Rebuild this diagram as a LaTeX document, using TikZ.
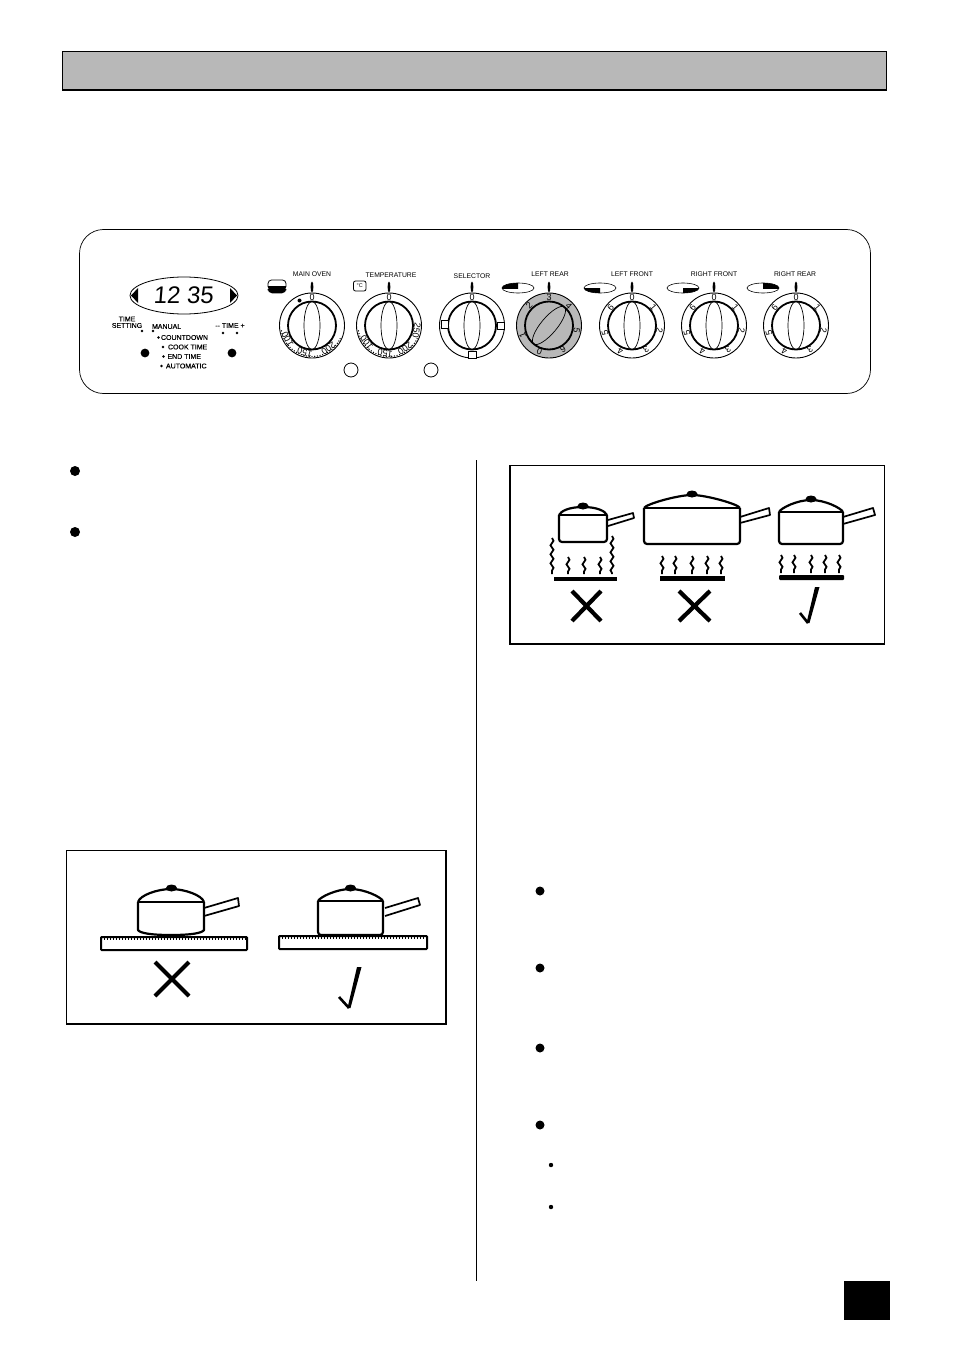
\documentclass[tikz,border=0pt]{standalone}
\usepackage{fontspec}
\setmainfont{Liberation Sans}
\newfontfamily\timerfont{Liberation Sans}[FakeBold=0.3]
\usetikzlibrary{decorations.pathmorphing}

\definecolor{bandgrey}{gray}{0.72}
\definecolor{dialgrey}{gray}{0.72}

\tikzset{
  panellabel/.style={font=\fontsize{6.8}{8}\selectfont, inner sep=0pt},
  timerlabel/.style={font=\timerfont\fontsize{7}{8}\selectfont, inner sep=0pt},
  dialnum/.style={font=\fontsize{9}{9}\selectfont, inner sep=0pt},
  potline/.style={line width=2.2pt, line join=round},
  handleline/.style={line width=1.7pt, line join=round},
  heatwave/.style={line width=1.8pt, decorate, decoration={snake, segment length=9pt, amplitude=1.5pt}},
  markstroke/.style={line width=4.2pt},
}

% dial at (x,y), ring fill, leaf angle
\newcommand{\dialbody}[4]{
  \draw[line width=0.9pt, fill=#3] (#1,#2) circle (32.5);
  \draw[line width=1.8pt] (#1,#2) circle (24);
  \draw[line width=0.7pt, rotate around={#4:(#1,#2)}] (#1,#2) ellipse (8 and 24);
  \fill (#1,287) ellipse (1.4 and 5.5);
}
\newcommand{\dialnums}[3]{
  \foreach \ang/\txt in {#3}
    \node[dialnum, rotate=-\ang] at ({#1+28*sin(\ang)},{#2-28*cos(\ang)}) {\txt};
}
\newcommand{\dialdots}[2]{
  \foreach \ang in {115,120,...,260}
    \fill ({#1+31*sin(\ang)},{#2-31*cos(\ang)}) circle (0.7);
}
% x left, x right, y lid, y bottom, y top
\newcommand{\potbody}[5]{
  \draw[potline, rounded corners=3pt] (#1,#3) -- (#1,#4) -- (#2,#4) -- (#2,#3);
  \draw[potline] (#1,#3) -- (#2,#3);
  \draw[potline] (#1,#3) .. controls ({#1+2},{#3-4}) and ({(#1+#2)/2-14},#5) .. ({(#1+#2)/2},#5)
    .. controls ({(#1+#2)/2+14},#5) and ({#2-2},{#3-4}) .. (#2,#3);
  \fill ({(#1+#2)/2},{#5-1}) ellipse (5.5 and 3.5);
}
\newcommand{\hobbar}[4]{
  \draw[line width=2pt, rounded corners=0.8pt] (#1,#3) rectangle (#2,#4);
  \draw[line width=2.4pt, dash pattern=on 1pt off 2pt] (#1,{#3+2}) -- (#2,{#3+2});
}
\newcommand{\crossmark}[4]{
  \draw[markstroke] (#1,#3) -- (#2,#4);
  \draw[markstroke] (#1,#4) -- (#2,#3);
}
\newcommand{\tickmark}[6]{
  \fill ({#1-2},#2) -- ({#1+2.5},#2) -- ({#3+1.5},#4) -- ({#3-1.5},#4) -- cycle;
  \draw[line width=2.6pt] (#5,#6) -- (#3,#4);
}
\newcommand{\burneroval}[6]{
  \begin{scope}
    \clip (#3,#5) rectangle (#4,#6);
    \fill (#1,#2) ellipse (16 and 5);
  \end{scope}
  \draw[line width=0.6pt] (#1,#2) ellipse (16 and 5);
}

\begin{document}
\begin{tikzpicture}[x=1pt, y=-1pt, line width=1pt]

\useasboundingbox (0,0) rectangle (954,1351);

\draw[line width=1.6pt, fill=bandgrey] (62.5,51.5) rectangle (886.5,90);

\draw[line width=0.7pt, rounded corners=24pt] (79.5,229.5) rectangle (870.5,393.5);

% clock display
\draw[line width=0.8pt] (184,295.5) ellipse (54 and 18.5);
\fill (138,288) -- (138,303) -- (131,295.5) -- cycle;
\fill (230,288) -- (230,303) -- (237,295.5) -- cycle;
\node[inner sep=0pt, font=\fontsize{24}{24}\selectfont, xslant=0.08] (clock) at (184,295) {12 35};

\node[timerlabel] (timeword) at (127,319) {TIME};
\node[timerlabel] (settingword) at (127,325.5) {SETTING};
\node[timerlabel, anchor=west] (manualword) at (151.5,326.5) {MANUAL};
\node[timerlabel] (timekeys) at (230,325.5) {-- TIME +};
\node[timerlabel, anchor=west] (countdownword) at (160.5,337.5) {COUNTDOWN};
\node[timerlabel, anchor=west] (cookword) at (167.5,347) {COOK TIME};
\node[timerlabel, anchor=west] (endword) at (167,356.5) {END TIME};
\node[timerlabel, anchor=west] (autoword) at (165.5,366) {AUTOMATIC};

\foreach \x/\y in {142/331,153/331,223/333,237/333,158.5/337.5,163/347,163.5/356.5,161.5/366}
  \fill (\x,\y) circle (1.3);
\fill (145,353) circle (4.4);
\fill (232,353) circle (4.4);
\draw[line width=0.8pt] (351,370) circle (7);
\draw[line width=0.8pt] (431,370) circle (7);

% oven and temperature dials
\node[panellabel] (ovenlabel) at (312,274) {MAIN OVEN};
\node[panellabel] (templabel) at (391,275.5) {TEMPERATURE};
\node[panellabel] (sellabel) at (472,276) {SELECTOR};
\node[panellabel] (rearlabel) at (550,274.5) {LEFT REAR};
\node[panellabel] (frontlabel) at (632,274) {LEFT FRONT};
\node[panellabel] (rfrontlabel) at (714,274) {RIGHT FRONT};
\node[panellabel] (rrearlabel) at (795,274) {RIGHT REAR};

\dialbody{312}{325.5}{white}{0}
\dialbody{389}{325.5}{white}{0}
\dialbody{472}{325.5}{white}{0}
\dialbody{549}{325.5}{dialgrey}{-40}
\dialbody{632}{325.5}{white}{0}
\dialbody{714}{325.5}{white}{0}
\dialbody{796}{325.5}{white}{0}

\dialdots{312}{325.5}
\dialdots{389}{325.5}

\dialnums{312}{325.5}{0/0,241/100,195/150,144/200}
\fill (299.5,300.5) circle (2);
\dialnums{389}{325.5}{0/0,233/100,188/150,145/200,100/250}
\dialnums{472}{325.5}{0/0}
\dialnums{549}{325.5}{200/0,250/1,315/2,0/3,45/4,100/5,150/6}
\foreach \cx in {632,714,796} {
  \dialnums{\cx}{325.5}{0/0,50/1,100/2,150/3,205/4,255/5,310/6}
}

\draw[line width=1pt, fill=white] (441,320.5) rectangle (448,328);
\draw[line width=1pt, fill=white] (497,322) rectangle (504,329.5);
\draw[line width=1pt, fill=white] (468,351) rectangle (476,358);

% symbols over the dials
\draw[line width=0.8pt, rounded corners=3.5pt] (268,287) -- (268,280) -- (286,280) -- (286,287);
\fill[rounded corners=4.5pt] (267.6,286) -- (267.6,293.3) -- (286.4,293.3) -- (286.4,286) -- cycle;
\fill (267.6,286) rectangle (286.4,288);
\draw[line width=0.8pt, rounded corners=2pt] (353.5,281) rectangle (366,291);
\node[inner sep=0pt, font=\fontsize{5.5}{6}\selectfont] (degsign) at (359.7,286) {°C};

\burneroval{518}{288}{502}{518}{283}{288}
\burneroval{600}{288}{584}{600}{288}{293}
\burneroval{683}{288}{683}{699}{288}{293}
\burneroval{763}{288}{763}{779}{283}{288}

% column rule, bullets, page tab
\draw[line width=0.9pt] (476.5,460) -- (476.5,1281);
\foreach \y in {471,532}
  \fill (75,\y) circle (5);
\foreach \y in {891,968,1048,1125}
  \fill (540,\y) circle (4.5);
\foreach \y in {1165,1207}
  \fill (551,\y) circle (2.2);
\fill (844,1281) rectangle (890,1320);

% flat base panel
\draw[line width=1.3pt] (66.5,850.5) rectangle (446,1024);

\draw[potline] (138,902) -- (204,902);
\draw[potline] (138,902) -- (138,930) .. controls (140,933) and (150,935) .. (171,935)
  .. controls (192,935) and (202,933) .. (204,930) -- (204,902);
\draw[potline] (138,902) .. controls (140,895) and (158,889) .. (171,889)
  .. controls (184,889) and (202,895) .. (204,902);
\fill (171.5,888) ellipse (5.5 and 3.5);
\draw[handleline] (204,908) -- (238,898) -- (239,906) -- (204,916);
\hobbar{101}{247}{937}{950}

\potbody{318}{383}{901}{935}{889}
\draw[handleline] (385,908) -- (418,898) -- (420,905) -- (385,916);
\hobbar{279}{427}{936}{949}

\crossmark{155}{189}{962}{996}
\tickmark{359}{967}{349}{1008}{339}{997}

% pan size panel
\draw[line width=1.3pt] (510,465.5) rectangle (884.5,644);

\potbody{559}{607}{515}{542}{507}
\draw[handleline] (608,520) -- (633,513) -- (634,518) -- (608,526);
\potbody{644}{740}{508}{544}{495}
\draw[handleline] (740,517) -- (769,508) -- (770,515) -- (740,523);
\potbody{779}{843}{512}{544}{500}
\draw[handleline] (843,517) -- (873,508) -- (875,515) -- (843,524);

\foreach \x in {568,584,600}
  \draw[heatwave] (\x,557) -- (\x,574);
\draw[heatwave] (552,538) -- (552,574);
\draw[heatwave] (612,536) -- (612,574);
\foreach \x in {662,675,692,707,721}
  \draw[heatwave] (\x,556) -- (\x,574);
\foreach \x in {781,794,811,825,839}
  \draw[heatwave] (\x,555) -- (\x,573);

\fill (554,577) rectangle (617,581);
\fill (660,576) rectangle (725,581);
\fill[rounded corners=1pt] (779,575) rectangle (844,580);

\crossmark{572}{601}{591}{621}
\crossmark{679}{710}{591}{621}
\tickmark{817}{587}{808}{623}{800}{613}

\end{tikzpicture}
\end{document}
